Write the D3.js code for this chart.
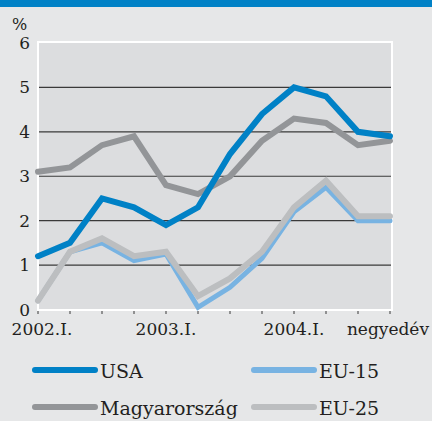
<!DOCTYPE html>
<html>
<head>
<meta charset="utf-8">
<script src="https://cdn.jsdelivr.net/npm/d3@7"></script>
<style>
  html, body { margin: 0; padding: 0; background: #e6e7e8; }
  svg { display: block; }
</style>
</head>
<body>
<script>
var width = 432;
var height = 421;

// quarters 2002.I - 2004.IV
var quarters = ["2002.I", "2002.II", "2002.III", "2002.IV",
                "2003.I", "2003.II", "2003.III", "2003.IV",
                "2004.I", "2004.II", "2004.III", "2004.IV"];
var xLabels = {0: "2002.I.", 4: "2003.I.", 8: "2004.I."};
var yTicks = [0, 1, 2, 3, 4, 5, 6];

var usa = [1.2, 1.5, 2.5, 2.3, 1.9, 2.3, 3.5, 4.4, 5.0, 4.8, 4.0, 3.9];
var hungary = [3.1, 3.2, 3.7, 3.9, 2.8, 2.6, 3.0, 3.8, 4.3, 4.2, 3.7, 3.8];
var eu15 = [0.2, 1.3, 1.5, 1.1, 1.25, 0.05, 0.5, 1.15, 2.2, 2.75, 2.0, 2.0];
var eu25 = [0.2, 1.3, 1.6, 1.2, 1.3, 0.3, 0.7, 1.3, 2.3, 2.9, 2.1, 2.1];

// drawing order: bottom first
var series = [
    {name: "EU-15", values: eu15, color: "#78b3e2", width: 5},
    {name: "EU-25", values: eu25, color: "#bcbec0", width: 6},
    {name: "Magyarország", values: hungary, color: "#939598", width: 6},
    {name: "USA", values: usa, color: "#0081c6", width: 6}
];

var fontFamily = "'DejaVu Serif', 'Liberation Serif', serif";

var svg = d3.select("body").append("svg")
    .attr("width", width)
    .attr("height", height)
    .attr("font-family", fontFamily);

// top band
svg.append("rect")
    .attr("x", 0).attr("y", 0)
    .attr("width", width).attr("height", 7)
    .attr("fill", "#0081c6");

var x = d3.scalePoint().domain(quarters).range([38, 390]);
var y = d3.scaleLinear().domain([0, 6]).range([309.5, 43]);

// plot area
svg.append("rect")
    .attr("x", 38).attr("y", 42)
    .attr("width", 354).attr("height", 268)
    .attr("fill", "#dcdddf")
    .attr("stroke", "#ffffff")
    .attr("stroke-width", 2);

// grid lines
svg.append("g")
    .selectAll("line")
    .data(yTicks.filter(function(d) { return d > 0 && d < 6; }))
    .enter().append("line")
    .attr("x1", 39).attr("x2", 391)
    .attr("y1", function(d) { return y(d); })
    .attr("y2", function(d) { return y(d); })
    .attr("stroke", "#3a3a3a")
    .attr("stroke-width", 1.2);

// y axis labels
svg.append("g")
    .selectAll("text")
    .data(yTicks)
    .enter().append("text")
    .attr("x", 30)
    .attr("y", function(d) { return y(d) + 6; })
    .attr("text-anchor", "end")
    .attr("fill", "#231f20")
    .style("font-family", fontFamily)
    .style("font-size", "17px")
    .text(function(d) { return d; });

svg.append("text")
    .attr("x", 12).attr("y", 30)
    .attr("fill", "#231f20")
    .style("font-family", fontFamily)
    .style("font-size", "16px")
    .text("%");

// x axis ticks
svg.append("g")
    .selectAll("line")
    .data(quarters)
    .enter().append("line")
    .attr("x1", function(d) { return x(d); })
    .attr("x2", function(d) { return x(d); })
    .attr("y1", 311).attr("y2", 314)
    .attr("stroke", "#3a3a3a")
    .attr("stroke-width", 1);

svg.append("g")
    .selectAll("text")
    .data(Object.keys(xLabels))
    .enter().append("text")
    .attr("x", function(i) { return x(quarters[i]) + (i == 0 ? 4 : 0); })
    .attr("y", 335)
    .attr("text-anchor", "middle")
    .attr("fill", "#231f20")
    .style("font-family", fontFamily)
    .style("font-size", "17px")
    .text(function(i) { return xLabels[i]; });

svg.append("text")
    .attr("x", 429).attr("y", 335)
    .attr("text-anchor", "end")
    .attr("fill", "#231f20")
    .style("font-family", fontFamily)
    .style("font-size", "17px")
    .text("negyedév");

// lines
var line = d3.line()
    .x(function(d, i) { return x(quarters[i]); })
    .y(function(d) { return y(d); });

svg.append("g")
    .selectAll("path")
    .data(series)
    .enter().append("path")
    .attr("d", function(s) { return line(s.values); })
    .attr("fill", "none")
    .attr("stroke", function(s) { return s.color; })
    .attr("stroke-width", function(s) { return s.width; })
    .attr("stroke-linecap", "round")
    .attr("stroke-linejoin", "miter");

// legend
var legendItems = [
    {s: series[3], x: 33, y: 370},
    {s: series[0], x: 252, y: 370},
    {s: series[2], x: 33, y: 407},
    {s: series[1], x: 252, y: 407}
];

var legend = svg.append("g")
    .selectAll("g")
    .data(legendItems)
    .enter().append("g")
    .attr("transform", function(d) { return "translate(" + d.x + "," + d.y + ")"; });

legend.append("line")
    .attr("x1", 2).attr("x2", 62)
    .attr("y1", 0).attr("y2", 0)
    .attr("stroke", function(d) { return d.s.color; })
    .attr("stroke-width", 6)
    .attr("stroke-linecap", "round");

legend.append("text")
    .attr("x", 67)
    .attr("y", 8)
    .attr("fill", "#231f20")
    .style("font-family", fontFamily)
    .style("font-size", "19px")
    .text(function(d) { return d.s.name; });
</script>
</body>
</html>
